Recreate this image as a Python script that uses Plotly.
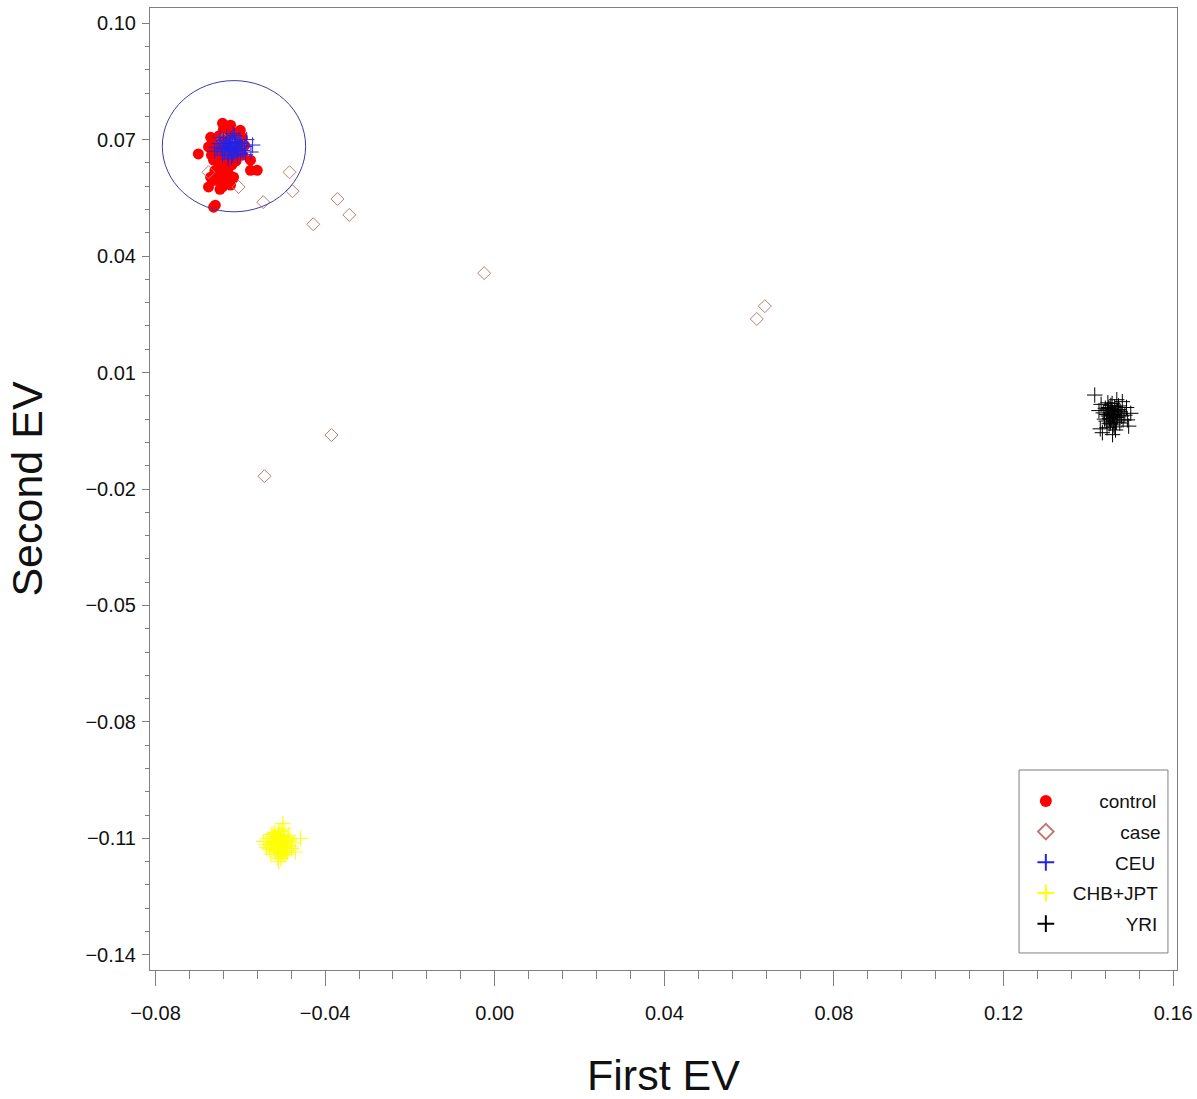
import plotly.graph_objects as go

# ---------------- data ----------------
control_x = [-0.0699, -0.0670, -0.0675, -0.0663, -0.0630, -0.0576, -0.0560, -0.0576, -0.0670, -0.0675,
             -0.0642, -0.0623, -0.0630, -0.0659, -0.0663, -0.0642, -0.0616, -0.0642, -0.0623, -0.0600,
             -0.0655, -0.0650, -0.0660, -0.0645, -0.0640, -0.0635, -0.0630, -0.0620, -0.0610, -0.0600,
             -0.0605, -0.0615, -0.0625, -0.0640, -0.0650, -0.0660, -0.0655, -0.0645, -0.0635, -0.0620,
             -0.0610, -0.0595, -0.0590, -0.0595, -0.0665, -0.0668, -0.0650, -0.0640, -0.0630, -0.0652,
             -0.0638, -0.0632, -0.0628, -0.0660, -0.0648]
control_y = [0.0663, 0.0706, 0.0681, 0.0647, 0.0647, 0.0647, 0.0621, 0.0621, 0.0603, 0.0578,
             0.0596, 0.0583, 0.0621, 0.0531, 0.0526, 0.0578, 0.0603, 0.0742, 0.0737, 0.0724,
             0.0700, 0.0690, 0.0670, 0.0660, 0.0675, 0.0690, 0.0710, 0.0720, 0.0715, 0.0700,
             0.0680, 0.0660, 0.0650, 0.0640, 0.0630, 0.0620, 0.0610, 0.0620, 0.0630, 0.0635,
             0.0645, 0.0660, 0.0685, 0.0705, 0.0690, 0.0660, 0.0710, 0.0725, 0.0735, 0.0600,
             0.0588, 0.0600, 0.0612, 0.0595, 0.0572]

case_x = [-0.0484, -0.0477, -0.0546, -0.0428, -0.0371, -0.0343, -0.0025, 0.0618, 0.0637,
          -0.0385, -0.0543, -0.0675, -0.0604, -0.0640, -0.0600]
case_y = [0.0616, 0.0567, 0.0539, 0.0482, 0.0547, 0.0506, 0.0356, 0.0238, 0.0271,
          -0.0061, -0.0167, 0.0616, 0.0578, 0.0700, 0.0690]

ceu_x = [-0.0620, -0.0612, -0.0630, -0.0625, -0.0605, -0.0615, -0.0635, -0.0640, -0.0600, -0.0622,
         -0.0618, -0.0628, -0.0610, -0.0645, -0.0598, -0.0632, -0.0608, -0.0650, -0.0595, -0.0626,
         -0.0614, -0.0638, -0.0603, -0.0621, -0.0642, -0.0590, -0.0655, -0.0617, -0.0633, -0.0607,
         -0.0624, -0.0611, -0.0648, -0.0601, -0.0629, -0.0619, -0.0636, -0.0660, -0.0588, -0.0571,
         -0.0575, -0.0585, -0.0613, -0.0627, -0.0609]
ceu_y = [0.0680, 0.0688, 0.0675, 0.0692, 0.0678, 0.0670, 0.0685, 0.0698, 0.0665, 0.0702,
         0.0660, 0.0662, 0.0695, 0.0676, 0.0690, 0.0706, 0.0684, 0.0690, 0.0672, 0.0682,
         0.0710, 0.0668, 0.0700, 0.0655, 0.0660, 0.0682, 0.0680, 0.0715, 0.0690, 0.0658,
         0.0672, 0.0676, 0.0705, 0.0692, 0.0650, 0.0694, 0.0678, 0.0670, 0.0662, 0.0686,
         0.0668, 0.0700, 0.0682, 0.0686, 0.0674]

chb_x = [-0.0505, -0.0498, -0.0512, -0.0520, -0.0490, -0.0508, -0.0515, -0.0495, -0.0502, -0.0525,
         -0.0485, -0.0510, -0.0500, -0.0518, -0.0492, -0.0530, -0.0507, -0.0497, -0.0513, -0.0488,
         -0.0503, -0.0522, -0.0494, -0.0509, -0.0516, -0.0480, -0.0535, -0.0501, -0.0511, -0.0499,
         -0.0506, -0.0527, -0.0491, -0.0514, -0.0496, -0.0519, -0.0504, -0.0483, -0.0540, -0.0458,
         -0.0470, -0.0545, -0.0510, -0.0500, -0.0493, -0.0517, -0.0508, -0.0476, -0.0532, -0.0502,
         -0.0521, -0.0489, -0.0528, -0.0486, -0.0512, -0.0497, -0.0538, -0.0479, -0.0505, -0.0523]
chb_y = [-0.1112, -0.1105, -0.1120, -0.1100, -0.1118, -0.1095, -0.1130, -0.1125, -0.1090, -0.1110,
         -0.1108, -0.1140, -0.1122, -0.1085, -0.1132, -0.1118, -0.1102, -0.1138, -0.1115, -0.1098,
         -0.1128, -0.1125, -0.1110, -0.1082, -0.1105, -0.1120, -0.1100, -0.1145, -0.1092, -0.1117,
         -0.1135, -0.1090, -0.1126, -0.1112, -0.1099, -0.1134, -0.1080, -0.1104, -0.1115, -0.1100,
         -0.1135, -0.1108, -0.1160, -0.1062, -0.1142, -0.1096, -0.1118, -0.1112, -0.1128, -0.1122,
         -0.1088, -0.1136, -0.1140, -0.1092, -0.1150, -0.1074, -0.1124, -0.1126, -0.1152, -0.1095]

yri_x = [0.1457, 0.1465, 0.1450, 0.1472, 0.1443, 0.1460, 0.1448, 0.1468, 0.1455, 0.1478,
         0.1438, 0.1462, 0.1452, 0.1470, 0.1445, 0.1482, 0.1458, 0.1440, 0.1466, 0.1453,
         0.1475, 0.1447, 0.1461, 0.1435, 0.1486, 0.1456, 0.1449, 0.1469, 0.1442, 0.1463,
         0.1451, 0.1474, 0.1459, 0.1430, 0.1490, 0.1415, 0.1428, 0.1495, 0.1500, 0.1433,
         0.1480, 0.1446, 0.1464, 0.1454, 0.1471, 0.1425, 0.1492, 0.1457, 0.1444, 0.1467]
yri_y = [-0.0010, -0.0002, -0.0018, 0.0005, -0.0008, -0.0025, 0.0010, -0.0015, 0.0002, -0.0012,
         -0.0020, 0.0012, -0.0030, -0.0005, 0.0004, -0.0022, -0.0035, 0.0008, -0.0028, 0.0015,
         0.0000, -0.0012, -0.0040, -0.0004, -0.0010, 0.0020, -0.0032, 0.0003, -0.0025, -0.0016,
         0.0007, -0.0030, -0.0008, 0.0018, 0.0010, 0.0042, -0.0045, -0.0038, -0.0005, -0.0055,
         0.0025, 0.0022, -0.0048, -0.0020, 0.0014, 0.0002, -0.0022, -0.0060, -0.0042, 0.0030]

# ellipse around the CEU cluster
circle_cx = -0.0615
circle_cy = 0.0683
circle_r = 0.0169

x_ticks = [-0.08, -0.04, 0.00, 0.04, 0.08, 0.12, 0.16]
x_ticktext = ["\u22120.08", "\u22120.04", "0.00", "0.04", "0.08", "0.12", "0.16"]
y_ticks = [0.10, 0.07, 0.04, 0.01, -0.02, -0.05, -0.08, -0.11, -0.14]
y_ticktext = ["0.10", "0.07", "0.04", "0.01", "\u22120.02", "\u22120.05", "\u22120.08", "\u22120.11", "\u22120.14"]

FONT = "Liberation Sans, Arial, sans-serif"
NB = "\u00a0"

fig = go.Figure()

fig.add_trace(go.Scatter(x=control_x, y=control_y, mode="markers", name=NB * 5 + "control",
                         legendgroup="g1",
                         marker=dict(symbol="circle", size=11, color="#ff0000",
                                     line=dict(width=0))))
fig.add_trace(go.Scatter(x=case_x, y=case_y, mode="markers", name=NB * 9 + "case",
                         legendgroup="g2",
                         marker=dict(symbol="diamond-open", size=10, color="#c07a74",
                                     line=dict(width=1, color="#c07a74"))))
fig.add_trace(go.Scatter(x=ceu_x, y=ceu_y, mode="markers", name=NB * 8 + "CEU",
                         legendgroup="g3",
                         marker=dict(symbol="cross-thin", size=11, color="#2323e6",
                                     line=dict(width=1, color="#2323e6"))))
fig.add_trace(go.Scatter(x=chb_x, y=chb_y, mode="markers", name="CHB+JPT",
                         legendgroup="g4",
                         marker=dict(symbol="cross-thin", size=11, color="#ffff00",
                                     line=dict(width=1, color="#ffff00"))))
fig.add_trace(go.Scatter(x=yri_x, y=yri_y, mode="markers", name=NB * 10 + "YRI",
                         legendgroup="g5",
                         marker=dict(symbol="cross-thin", size=11, color="#000000",
                                     line=dict(width=1, color="#000000"))))

fig.add_shape(type="circle", xref="x", yref="y",
              x0=circle_cx - circle_r, x1=circle_cx + circle_r,
              y0=circle_cy - circle_r, y1=circle_cy + circle_r,
              line=dict(color="#3c3caa", width=1), layer="above")

# legend frame (drawn separately so the legend keeps generous padding)
fig.add_shape(type="rect", xref="paper", yref="paper",
              x0=0.8462, x1=0.9912, y0=0.0177, y1=0.2079,
              line=dict(color="#7f7f7f", width=1), fillcolor="white", layer="below")

axis_common = dict(showline=True, linecolor="#7f7f7f", linewidth=1, mirror=True,
                   showgrid=False, zeroline=False, ticks="outside", tickcolor="#7f7f7f",
                   tickwidth=1, tickfont=dict(family=FONT, size=20, color="#111111"))

fig.update_xaxes(**axis_common, range=[-0.0813, 0.1609], tickmode="array",
                 tickvals=x_ticks, ticktext=x_ticktext, ticklen=15, ticklabelstandoff=10,
                 minor=dict(dtick=0.008, tick0=-0.08, ticklen=8, ticks="outside",
                            tickcolor="#7f7f7f", tickwidth=1),
                 title=dict(text="First EV", font=dict(family=FONT, size=43, color="#111111"),
                            standoff=47))
fig.update_yaxes(**axis_common, range=[-0.1439, 0.1039], tickmode="array",
                 tickvals=y_ticks, ticktext=y_ticktext, ticklen=7, ticklabelstandoff=2,
                 minor=dict(dtick=0.006, tick0=-0.14, ticklen=4, ticks="outside",
                            tickcolor="#7f7f7f", tickwidth=1),
                 title=dict(text="Second EV", font=dict(family=FONT, size=43, color="#111111"),
                            standoff=29))

fig.update_layout(
    width=1197, height=1099,
    margin=dict(l=150, r=20, t=8, b=129, autoexpand=False),
    paper_bgcolor="white", plot_bgcolor="white",
    font=dict(family=FONT, color="#111111"),
    showlegend=True,
    legend=dict(x=0.846, y=0.028, xanchor="left", yanchor="bottom",
                bgcolor="rgba(0,0,0,0)", borderwidth=0,
                font=dict(family=FONT, size=19, color="#111111"),
                itemsizing="constant", itemwidth=44,
                traceorder="grouped", tracegroupgap=3),
)

fig.write_html("out.html")
